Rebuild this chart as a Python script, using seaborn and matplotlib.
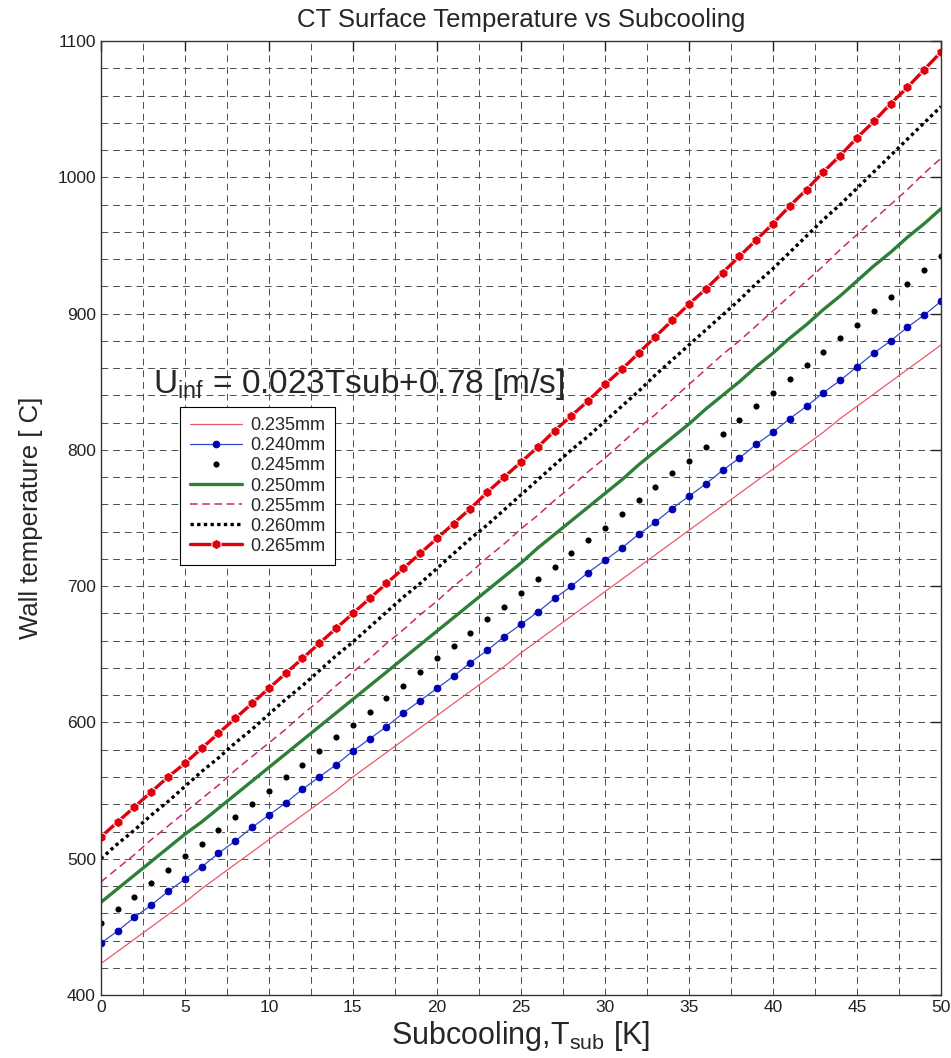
"""
CT surface temperature vs subcooling, one curve per thickness.
"""

import matplotlib
matplotlib.use("Agg")
import matplotlib.pyplot as plt
from matplotlib.ticker import MultipleLocator
import pandas as pd
import seaborn as sns

# subcooling [K]
subcooling = list(range(0, 51))

# wall temperature [C]
t_235 = [423, 432, 441, 450, 459, 468, 478, 487, 496, 505, 514,
         523, 532, 541, 550, 560, 569, 578, 587, 596, 605,
         614, 623, 632, 641, 651, 660, 669, 678, 687, 696,
         705, 714, 723, 732, 741, 750, 759, 768, 777, 786,
         795, 804, 813, 823, 832, 841, 850, 859, 868, 877]
t_240 = [438, 447, 457, 466, 476, 485, 494, 504, 513, 523, 532,
         541, 551, 560, 569, 579, 588, 597, 607, 616, 625,
         634, 644, 653, 663, 672, 681, 691, 700, 710, 719,
         728, 738, 747, 757, 766, 775, 785, 794, 804, 813,
         823, 832, 842, 851, 861, 871, 880, 890, 899, 909]
t_245 = [453, 463, 472, 482, 492, 502, 511, 521, 531, 540, 550,
         560, 569, 579, 589, 598, 608, 618, 627, 637, 647,
         656, 666, 676, 685, 695, 705, 714, 724, 734, 743,
         753, 763, 773, 783, 792, 802, 812, 822, 832, 842,
         852, 862, 872, 882, 892, 902, 912, 922, 932, 942]
t_250 = [468, 478, 488, 498, 508, 518, 527, 537, 547, 557, 567,
         577, 587, 597, 607, 617, 627, 637, 647, 657, 667,
         677, 687, 697, 707, 717, 728, 738, 748, 758, 768,
         778, 789, 799, 809, 819, 830, 840, 850, 861, 871,
         882, 892, 903, 913, 924, 935, 945, 956, 966, 977]
t_255 = [483, 493, 503, 514, 524, 534, 544, 554, 565, 575, 585,
         595, 606, 616, 627, 637, 647, 658, 668, 679, 689,
         700, 710, 721, 731, 742, 752, 763, 773, 784, 794,
         805, 816, 826, 837, 848, 859, 870, 880, 891, 902,
         913, 924, 935, 947, 958, 969, 980, 991, 1003, 1014]
t_260 = [500, 511, 521, 532, 542, 553, 564, 574, 585, 595, 606,
         617, 627, 638, 649, 659, 670, 681, 692, 702, 713,
         724, 735, 745, 756, 767, 778, 789, 800, 810, 821,
         832, 843, 855, 866, 877, 888, 899, 910, 922, 933,
         945, 957, 969, 980, 992, 1004, 1016, 1028, 1040, 1052]
t_265 = [516, 527, 538, 549, 560, 570, 581, 592, 603, 614, 625,
         636, 647, 658, 669, 680, 691, 702, 713, 724, 735,
         746, 757, 769, 780, 791, 802, 814, 825, 836, 848,
         859, 871, 883, 895, 907, 918, 930, 942, 954, 966,
         979, 991, 1004, 1016, 1029, 1041, 1054, 1066, 1079, 1092]

labels = ["0.235mm", "0.240mm", "0.245mm", "0.250mm", "0.255mm", "0.260mm", "0.265mm"]
series = [t_235, t_240, t_245, t_250, t_255, t_260, t_265]

x_ticks = [0, 5, 10, 15, 20, 25, 30, 35, 40, 45, 50]
y_ticks = [400, 500, 600, 700, 800, 900, 1000, 1100]

# line styles per thickness
styles = [
    dict(color=(0.92, 0.35, 0.4), lw=0.9),
    dict(color=(0.2, 0.3, 0.8), lw=0.9, marker="o", ms=4.8,
         mfc=(0.0, 0.0, 0.7), mec=(0.0, 0.0, 0.7)),
    dict(color="black", linestyle="none", marker="o", ms=5.2),
    dict(color=(0.18, 0.5, 0.22), lw=2.4),
    dict(color=(0.8, 0.15, 0.45), lw=1.1, dashes=(5, 3)),
    dict(color="black", lw=2.4, dashes=(1.0, 1.0)),
    dict(color=(0.88, 0.0, 0.05), lw=2.4, marker="h", ms=7.5),
]

sns.set_style("white")
plt.rcParams["font.family"] = ["Liberation Sans", "DejaVu Sans"]
plt.rcParams["mathtext.fontset"] = "custom"
plt.rcParams["mathtext.rm"] = "Liberation Sans"
plt.rcParams["mathtext.it"] = "Liberation Sans"

df = pd.DataFrame({"x": subcooling})
for lab, vals in zip(labels, series):
    df[lab] = vals

fig = plt.figure(figsize=(9.51, 10.58), dpi=100)
ax = fig.add_axes([0.106, 0.0595, 0.8835, 0.9017])

for lab, st in zip(labels, styles):
    sns.lineplot(data=df, x="x", y=lab, ax=ax, label=lab, **st)

ax.set_xlim(0, 50)
ax.set_ylim(400, 1100)
ax.set_xticks(x_ticks)
ax.set_yticks(y_ticks)
ax.xaxis.set_minor_locator(MultipleLocator(2.5))
ax.yaxis.set_minor_locator(MultipleLocator(20))

grid_kw = dict(color=(0.3, 0.3, 0.3), lw=0.7, linestyle=(0, (7, 5)))
ax.grid(True, which="major", **grid_kw)
ax.grid(True, which="minor", **grid_kw)
ax.set_axisbelow(True)

ax.tick_params(which="major", direction="in", length=7, width=1.0,
               top=True, right=True, labelsize=12.5, pad=3.5, colors="#222222")
ax.tick_params(which="minor", length=0)
for sp in ax.spines.values():
    sp.set_visible(True)
    sp.set_color("#333333")
    sp.set_linewidth(1.0)

ax.set_title("CT Surface Temperature vs Subcooling", fontsize=18.5, pad=10)
ax.set_xlabel("Subcooling,T$_{\\rm sub}$ [K]", fontsize=22, labelpad=3)
ax.set_ylabel("Wall temperature [ C]", fontsize=18.5, labelpad=10)

ax.text(3.1, 842, "U$_{\\rm inf}$ = 0.023Tsub+0.78 [m/s]", fontsize=24,
        va="baseline", ha="left")

leg = ax.legend(loc="upper left", bbox_to_anchor=(0.094, 0.616), fontsize=13,
                frameon=True, fancybox=False, handlelength=2.9,
                handletextpad=0.45, borderpad=0.55, labelspacing=0.17,
                borderaxespad=0)
leg.get_frame().set_edgecolor("black")
leg.get_frame().set_linewidth(0.8)
leg.get_frame().set_alpha(1)

fig.savefig("out.png", dpi=100, facecolor="white")
plt.close(fig)
